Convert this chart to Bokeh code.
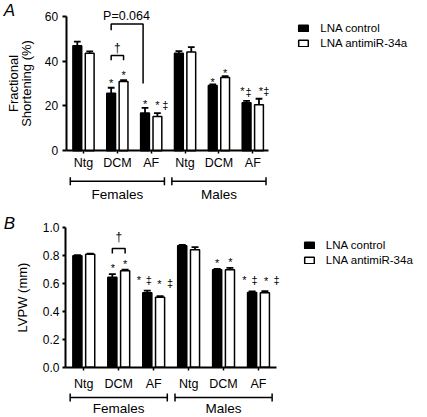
from bokeh.plotting import figure
from bokeh.models import (FixedTicker, LinearAxis, Range1d, Legend, LegendItem, PrintfTickFormatter)
from bokeh.layouts import column
from bokeh.embed import file_html
from bokeh.resources import INLINE
from bokeh.core.properties import value

FONT = "Liberation Sans"

# ---------------- data ----------------
conditions = ["Ntg", "DCM", "AF", "Ntg", "DCM", "AF"]
sex_groups = ["Females", "Males"]
series_names = ["LNA control", "LNA antimiR-34a"]

fs_control = [46.8, 25.7, 16.9, 43.5, 29.1, 21.4]
fs_control_err = [1.9, 2.4, 2.2, 0.9, 0.5, 0.9]
fs_antimir = [43.5, 30.9, 15.3, 44.1, 32.7, 20.5]
fs_antimir_err = [0.8, 0.6, 1.5, 2.1, 0.6, 2.7]
fs_ticks = [0, 20, 40, 60]

lvpw_control = [0.799, 0.646, 0.534, 0.871, 0.699, 0.536]
lvpw_control_err = [0.004, 0.021, 0.016, 0.007, 0.007, 0.007]
lvpw_antimir = [0.811, 0.692, 0.502, 0.842, 0.699, 0.534]
lvpw_antimir_err = [0.003, 0.007, 0.007, 0.019, 0.014, 0.011]
lvpw_ticks = [0.0, 0.2, 0.4, 0.6, 0.8, 1.0]

# significance marks: (group index, series index, symbol)
fs_marks = [(1, 0, "*"), (1, 1, "*"), (2, 0, "*"), (2, 1, "*"), (2, 1, "‡"),
            (4, 0, "*"), (4, 1, "*"), (5, 0, "*"), (5, 0, "‡"), (5, 1, "*"), (5, 1, "‡")]
lvpw_marks = [(1, 0, "*"), (1, 1, "*"), (2, 0, "*"), (2, 0, "‡"), (2, 1, "*"), (2, 1, "‡"),
              (4, 0, "*"), (4, 1, "*"), (5, 0, "*"), (5, 0, "‡"), (5, 1, "*"), (5, 1, "‡")]
fs_p_text = "P=0.064"

# ---------------- layout (pixels) ----------------
fs_mark_px = [(0, 7.3), (0, 7.7), (0, 6.6), (0, 11), (7.8, 7.7),
              (0, 5), (0, 5.7), (-4.3, 12), (2, 8.6), (2, 10), (7.3, 7.8)]
lvpw_mark_px = [(0.5, 9), (0, 8), (-8.5, 13), (1.5, 11), (-0.6, 15), (9.9, 13),
                (0, 8.6), (0.5, 8.3), (-7.6, 13.6), (2.4, 11.3), (1.3, 12.7), (11.6, 11)]

OFF = 0.183      # bar offset from group centre
BW = 0.26        # bar width
CAP = 0.1        # error cap half-width
HALF_BRACKET = 1.39
STAR_FIX = 2.5   # px, visual centre of '*' vs its middle baseline


def panel(ctrl, ctrl_err, anti, anti_err, ticks, fmt, ylabel, letter, L, marks, mark_px):
    ppx, ppy = L["pitch"], L["ppu"]
    x0 = -L["g0"] / ppx
    x1 = (L["w"] - L["g0"]) / ppx
    y0 = (L["zero"] - L["h"]) / ppy
    y1 = L["zero"] / ppy
    xax = (L["axis_x"] - L["g0"]) / ppx
    p = figure(width=L["w"], height=L["h"], x_range=Range1d(x0, x1), y_range=Range1d(y0, y1),
               x_axis_type=None, y_axis_type=None, output_backend="svg", toolbar_location=None,
               min_border=0, min_border_left=0, min_border_right=0, min_border_top=0,
               min_border_bottom=0)
    p.outline_line_color = None

    yaxis = LinearAxis(ticker=FixedTicker(ticks=ticks), bounds=(0, ticks[-1]),
                       fixed_location=xax,
                       formatter=PrintfTickFormatter(format=fmt), axis_label=ylabel)
    yaxis.axis_line_width = 2
    yaxis.major_tick_line_width = 2
    yaxis.major_tick_out = L["ytick"]
    yaxis.major_tick_in = 0
    yaxis.minor_tick_out = 0
    yaxis.minor_tick_in = 0
    yaxis.major_label_standoff = L["ytick"]
    yaxis.major_label_text_font = FONT
    yaxis.major_label_text_font_size = "12px"
    yaxis.major_label_text_color = "black"
    yaxis.axis_label_text_font = FONT
    yaxis.axis_label_text_font_size = "13px"
    yaxis.axis_label_text_font_style = "normal"
    yaxis.axis_label_text_color = "black"
    yaxis.axis_label_text_line_height = 0.85
    yaxis.axis_label_standoff = L["lstand"]
    p.add_layout(yaxis, "left")

    xaxis = LinearAxis(ticker=FixedTicker(ticks=list(range(len(conditions)))),
                       bounds=(xax, (L["xend"] - L["g0"]) / ppx), fixed_location=0,
                       major_label_overrides={i: c for i, c in enumerate(conditions)})
    xaxis.axis_line_width = 2
    xaxis.major_tick_line_width = 1.5
    xaxis.major_tick_out = 3
    xaxis.major_tick_in = 0
    xaxis.minor_tick_out = 0
    xaxis.minor_tick_in = 0
    xaxis.major_label_standoff = L["xstand"]
    xaxis.major_label_text_font = FONT
    xaxis.major_label_text_font_size = "12.5px"
    xaxis.major_label_text_color = "black"
    p.add_layout(xaxis, "below")

    idx = list(range(len(conditions)))
    xc = [i - OFF for i in idx]
    xa = [i + OFF for i in idx]
    r_c = p.vbar(x=xc, top=ctrl, width=BW, fill_color="black", line_color="black", line_width=1.5)
    r_a = p.vbar(x=xa, top=anti, width=BW, fill_color="white", line_color="black", line_width=1.5)
    for xs, v, e in ((xc, ctrl, ctrl_err), (xa, anti, anti_err)):
        et = [a + b for a, b in zip(v, e)]
        p.segment(x0=xs, y0=v, x1=xs, y1=et, line_color="black", line_width=1.8)
        p.segment(x0=[x - CAP for x in xs], y0=et, x1=[x + CAP for x in xs], y1=et,
                  line_color="black", line_width=1.8)

    # significance marks
    tx, ty, tt = [], [], []
    for (g, s, sym), (dx, dy) in zip(marks, mark_px):
        vals, errs = (ctrl, ctrl_err) if s == 0 else (anti, anti_err)
        bx = g - OFF if s == 0 else g + OFF
        top = vals[g] + errs[g]
        extra = -STAR_FIX if sym == "*" else 0
        tx.append(bx + dx / ppx)
        ty.append(top + (dy + extra) / ppy)
        tt.append(sym)
    p.text(x=tx, y=ty, text=tt, text_font=value(FONT), text_font_size="11px",
           text_align="center", text_baseline="middle", text_color="black")

    # dagger bracket between DCM bars
    d = L["dagger"]
    p.multi_line(xs=[[1 - OFF, 1 - OFF, 1 + OFF, 1 + OFF]],
                 ys=[[d[1], d[0], d[0], d[1]]], line_color="black", line_width=1.5)
    p.text(x=[1], y=[d[2]], text=["†"], text_font=value(FONT), text_font_size="12px",
           text_align="center", text_baseline="middle", text_color="black")

    # legend
    legend = Legend(items=[LegendItem(label=series_names[0], renderers=[r_c]),
                           LegendItem(label=series_names[1], renderers=[r_a])],
                    location=L["leg"], glyph_width=12, glyph_height=8, label_standoff=11,
                    spacing=1, padding=0, margin=0, border_line_color=None,
                    background_fill_alpha=0, label_text_font=FONT,
                    label_text_font_size="11.5px", label_text_color="black", label_height=14)
    p.add_layout(legend)

    # group brackets below the axis
    centres = [1, 4]
    tee = 4.0 / ppy
    by = L["br_y"]
    sx0, sy0, sx1, sy1 = [], [], [], []
    for c in centres:
        lo, hi = c - HALF_BRACKET, c + HALF_BRACKET
        sx0 += [lo, lo, hi]
        sx1 += [hi, lo, hi]
        sy0 += [by, by - tee, by - tee]
        sy1 += [by, by + tee, by + tee]
    p.segment(x0=sx0, y0=sy0, x1=sx1, y1=sy1, line_color="black", line_width=1.5)
    p.text(x=centres, y=[L["sex_y"]] * 2, text=sex_groups, text_font=value(FONT),
           text_font_size="13.5px", text_align="center", text_baseline="middle",
           text_color="black")
    p.text(x=[(L["letter_x"] - L["g0"]) / ppx], y=[L["letter_y"]], text=[letter],
           text_font=value(FONT), text_font_size="17px", text_font_style="italic",
           text_align="left", text_baseline="middle", text_color="black")
    return p


LA = dict(w=427, h=212, g0=83.0, pitch=33.86, ppu=2.243, zero=150.3, axis_x=65.7,
          xend=268, ytick=4, lstand=8, xstand=2, leg=(297.25, 162.5),
          br_y=-13.55, sex_y=-19.26, letter_x=3.3, letter_y=62.55, dagger=(42.5, 40.4, 45.7))
LB = dict(w=427, h=205, g0=83.3, pitch=34.94, ppu=139.4, zero=366.7 - 212, axis_x=65.0,
          xend=276, ytick=3, lstand=10, xstand=7, leg=(302.85, 150.3),
          br_y=-0.2174, sex_y=-0.2927, letter_x=3.3, letter_y=1.031, dagger=(0.851, 0.816, 0.935))

pA = panel(fs_control, fs_control_err, fs_antimir, fs_antimir_err, fs_ticks, "%d",
           "Fractional\nShortening (%)", "A", LA, fs_marks, fs_mark_px)
# P-value bracket (panel A)
pA.multi_line(xs=[[1 - OFF, 1 - OFF, 1.76, 1.76]], ys=[[53.8, 56.5, 56.5, 30.0]],
              line_color="black", line_width=1.5)
pA.text(x=[1.27], y=[60.0], text=[fs_p_text], text_font=value(FONT), text_font_size="12.5px",
        text_align="center", text_baseline="middle", text_color="black")

pB = panel(lvpw_control, lvpw_control_err, lvpw_antimir, lvpw_antimir_err, lvpw_ticks, "%.1f",
           "LVPW (mm)", "B", LB, lvpw_marks, lvpw_mark_px)

layout = column(pA, pB, spacing=0)
open("out.html", "w").write(file_html(layout, INLINE))
